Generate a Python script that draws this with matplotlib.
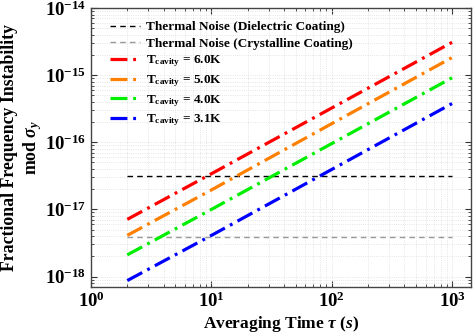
import matplotlib
matplotlib.use("Agg")
import matplotlib.pyplot as plt
import matplotlib.ticker as mticker
import numpy as np

tau = [2, 10, 100, 1000]
red_60 = [7.1e-18, 3.4e-17, 3.25e-16, 3.1e-15]
orange_50 = [4.1e-18, 1.95e-17, 1.9e-16, 1.84e-15]
green_40 = [2.1e-18, 1.0e-17, 9.6e-17, 9.2e-16]
blue_31 = [8.7e-19, 4.1e-18, 3.95e-17, 3.8e-16]
tn_dielectric = 3.16e-17
tn_crystalline = 3.9e-18
xticks = [1, 10, 100, 1000]
yticks = [1e-18, 1e-17, 1e-16, 1e-15, 1e-14]
labels = ["Thermal Noise (Dielectric Coating)", "Thermal Noise (Crystalline Coating)",
          r"T$_{\mathbf{cavity}}$ = 6.0K", r"T$_{\mathbf{cavity}}$ = 5.0K",
          r"T$_{\mathbf{cavity}}$ = 4.0K", r"T$_{\mathbf{cavity}}$ = 3.1K"]

plt.rcParams['font.family'] = 'Liberation Serif'
plt.rcParams['font.weight'] = 'bold'
plt.rcParams['mathtext.fontset'] = 'custom'
plt.rcParams['mathtext.rm'] = 'Liberation Serif:bold'
plt.rcParams['mathtext.bf'] = 'Liberation Serif:bold'
plt.rcParams['mathtext.it'] = 'Liberation Serif:bold:italic'

fig = plt.figure(figsize=(4.77, 3.33), dpi=100)
ax = fig.add_axes([91/477, 1 - 286.5/333, (471.5-91)/477, (286.5-8)/333])

ax.plot([tau[0], tau[-1]], [tn_dielectric]*2, color='black', lw=1.0, ls=(0, (4, 3)), label=labels[0])
ax.plot([tau[0], tau[-1]], [tn_crystalline]*2, color='#999999', lw=1.0, ls=(0, (4, 3)), label=labels[1])
dd = (0, (5.3, 1.8, 0.9, 1.8))
ax.plot(tau, red_60, color='#ff0000', lw=2.3, ls=dd, label=labels[2])
ax.plot(tau, orange_50, color='#ff8000', lw=2.3, ls=dd, label=labels[3])
ax.plot(tau, green_40, color='#00ee00', lw=2.3, ls=dd, label=labels[4])
ax.plot(tau, blue_31, color='#0000ff', lw=2.3, ls=dd, label=labels[5])

ax.set_xscale('log')
ax.set_yscale('log')
ax.set_xlim(1, 1.44e3)
ax.set_ylim(7.1e-19, 1e-14)
ax.set_xticks(xticks)
ax.set_yticks(yticks)
ax.xaxis.set_minor_formatter(mticker.NullFormatter())
ax.yaxis.set_minor_formatter(mticker.NullFormatter())

ax.grid(True, which='both', color='#dddddd', ls=':', lw=0.6)
ax.tick_params(which='both', direction='in', top=True, right=True, colors='#333333', labelcolor='black')
ax.tick_params(which='major', length=4, labelsize=13.5)
ax.tick_params(which='minor', length=2)
for s in ax.spines.values():
    s.set_color('#444444')
    s.set_linewidth(1.0)

ax.set_xlabel(r"Averaging Time $\mathit{τ}$ $\mathit{(s)}$", fontsize=12.5, fontweight='bold', labelpad=2)
ax.set_ylabel("Fractional Frequency Instability\n" + r"mod $\mathit{σ_y}$", fontsize=12.8,
              fontweight='bold', linespacing=1.2)
ax.yaxis.set_label_coords(-0.124, 0.5)

leg = ax.legend(loc='upper left', frameon=False, fontsize=9.5, handlelength=2.3, handletextpad=0.4,
                labelspacing=0.3, borderaxespad=0.6, borderpad=0.4,
                bbox_to_anchor=(0.015, 1.0))
for t in leg.get_texts():
    t.set_fontweight('bold')

fig.savefig('out.png', dpi=100)
